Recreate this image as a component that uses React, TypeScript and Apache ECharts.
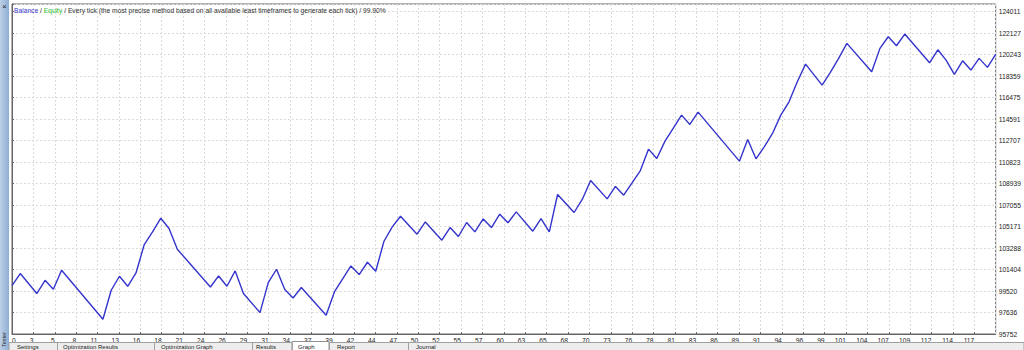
import React, { useEffect, useRef } from "react";
import * as echarts from "echarts";

// Trade index of each visible vertex of the balance curve
const trades = [
  0, 1, 3, 4, 5, 6, 11, 12, 13, 14, 15, 16, 17, 18, 19, 20, 24, 25, 26, 27, 28,
  30, 31, 32, 33, 34, 35, 38, 39, 41, 42, 43, 44, 45, 46, 47, 49, 50, 52, 53,
  54, 55, 56, 57, 58, 59, 60, 61, 63, 64, 65, 66, 68, 69, 70, 72, 73, 74, 76,
  77, 78, 79, 81, 82, 83, 88, 89, 90, 91, 92, 93, 94, 95, 96, 98, 99, 100, 101,
  104, 105, 106, 107, 108, 111, 112, 113, 114, 115, 116, 117, 118, 119,
];

// Account balance after that trade
const balance = [
  100000, 101052, 99297, 100464, 99674, 101342, 97042, 99587, 100815, 99938,
  101105, 103597, 104703, 105905, 105001, 103184, 99876, 100842, 99938, 101280,
  99297, 97630, 100262, 101429, 99648, 98911, 99824, 97393, 99438, 101719,
  100964, 102044, 101254, 103886, 105141, 106080, 104501, 105580, 103974,
  105089, 104299, 105527, 104703, 105843, 105089, 106256, 105510, 106458,
  104764, 105878, 104703, 107984, 106405, 107572, 109213, 107598, 108686,
  107923, 110055, 111959, 111143, 112661, 114943, 114127, 115206, 110906,
  112811, 111110, 112161, 113337, 114943, 116110, 117865, 119418, 117575,
  118690, 119918, 121235, 118743, 120796, 121814, 121024, 122051, 119532,
  120673, 119769, 118514, 119708, 118892, 119918, 119129, 120269,
];

const xTickLabels = [
  "0", "3", "5", "8", "11", "13", "16", "18", "21", "24", "26", "29", "31",
  "34", "37", "39", "42", "44", "47", "50", "52", "55", "57", "60", "63", "65",
  "68", "70", "73", "76", "78", "81", "83", "86", "89", "91", "94", "96", "99",
  "101", "104", "107", "109", "112", "114", "117",
];

const yTickLabels = [
  "95752", "97636", "99520", "101404", "103288", "105171", "107055", "108939",
  "110823", "112707", "114591", "116475", "118359", "120243", "122127",
  "124011",
];

const tabLabels = [
  "Settings",
  "Optimization Results",
  "Optimization Graph",
  "Results",
  "Graph",
  "Report",
  "Journal",
];

const titleParts = {
  balance: "Balance",
  equity: "Equity",
  rest: " / Every tick (the most precise method based on all available least timeframes to generate each tick) / 99.90%",
};

// value range of the balance axis (bottom of frame .. top of frame)
const yMin = 95752;
const yTop = 124011;
const yMax = 124686;
const xMax = 119;

export default function App() {
  const ref = useRef<HTMLDivElement>(null);

  useEffect(() => {
    if (!ref.current) return;
    const chart = echarts.init(ref.current, null, { renderer: "svg" });
    const yStep = (yTop - yMin) / (yTickLabels.length - 1);
    const yTickMax = (yMax - yMin) / yStep;
    const font = "'Liberation Sans', Arial, sans-serif";

    const tabX = [17, 63, 161, 256, 298, 337, 416];
    const tabSep = [57, 154, 252, 292, 329, 408];

    const graphics: any[] = [
      // left docking strip
      {
        type: "rect",
        shape: { x: 0, y: 0, width: 9, height: 350 },
        style: {
          fill: new echarts.graphic.LinearGradient(0, 0, 1, 0, [
            { offset: 0, color: "#bcd0e8" },
            { offset: 1, color: "#8eaed3" },
          ]),
        },
        z: 10,
      },
      {
        type: "text",
        x: 2,
        y: 2,
        style: { text: "×", fontSize: 8, fill: "#222", fontFamily: font },
        z: 11,
      },
      {
        type: "text",
        x: 7,
        y: 347,
        rotation: Math.PI / 2,
        style: {
          text: "Tester",
          fontSize: 5.5,
          fill: "#333",
          fontFamily: font,
          verticalAlign: "bottom",
        },
        z: 11,
      },
      // bottom tab row
      {
        type: "rect",
        shape: { x: 9, y: 342.5, width: 1015, height: 8 },
        style: { fill: "#ededed", stroke: "#a0a0a0", lineWidth: 1 },
        z: 10,
      },
      {
        type: "rect",
        shape: { x: 292, y: 341.5, width: 37, height: 10 },
        style: { fill: "#ffffff", stroke: "#909090", lineWidth: 1 },
        z: 11,
      },
      ...tabSep.map((x) => ({
        type: "line",
        shape: { x1: x + 0.5, y1: 343, x2: x + 0.5, y2: 350 },
        style: { stroke: "#a0a0a0", lineWidth: 1 },
        z: 11,
      })),
      ...tabLabels.map((t, i) => ({
        type: "text",
        x: tabX[i],
        y: 349.5,
        style: {
          text: t,
          fontSize: 6,
          fill: "#222",
          fontFamily: font,
          verticalAlign: "bottom",
        },
        z: 12,
      })),
      // title
      {
        type: "text",
        x: 14,
        y: 10,
        style: {
          text: `{b|${titleParts.balance}} / {g|${titleParts.equity}}${titleParts.rest}`,
          fontSize: 6.7,
          fill: "#333",
          fontFamily: font,
          verticalAlign: "middle",
          rich: {
            b: { fill: "#3a3ad0", fontSize: 6.7, fontFamily: font },
            g: { fill: "#2fbf2f", fontSize: 6.7, fontFamily: font },
          },
        },
        z: 12,
      },
    ];

    chart.setOption({
      animation: false,
      backgroundColor: "#ffffff",
      grid: {
        left: 12,
        right: 27,
        top: 4,
        bottom: 16,
        show: true,
        borderColor: "#666666",
        borderWidth: 1,
        backgroundColor: "#ffffff",
      },
      xAxis: [
        { type: "value", min: 0, max: xMax, show: false },
        {
          type: "value",
          min: 0,
          max: xTickLabels.length,
          interval: 1,
          position: "bottom",
          axisLine: { show: true, lineStyle: { color: "#666666" } },
          axisTick: { show: true, inside: true, length: 2, lineStyle: { color: "#666" } },
          splitLine: {
            show: true,
            lineStyle: { color: "#dadada", type: [2, 2], width: 1 },
          },
          axisLabel: {
            formatter: (v: number) => xTickLabels[v] ?? "",
            fontSize: 6.7,
            fontFamily: font,
            color: "#222",
            align: "right",
            alignMinLabel: "left",
            margin: 3,
            showMaxLabel: false,
          },
        },
      ],
      yAxis: [
        { type: "value", min: yMin, max: yMax, show: false },
        {
          type: "value",
          min: 0,
          max: yTickMax,
          interval: 1,
          position: "right",
          axisLine: { show: true, lineStyle: { color: "#666666" } },
          axisTick: { show: true, length: 2, lineStyle: { color: "#666" } },
          splitLine: {
            show: true,
            lineStyle: { color: "#dadada", type: [2, 2], width: 1 },
          },
          axisLabel: {
            formatter: (v: number) =>
              Number.isInteger(v) ? yTickLabels[v] ?? "" : "",
            fontSize: 6.7,
            fontFamily: font,
            color: "#222",
            margin: 3,
          },
        },
      ],
      series: [
        {
          type: "line",
          xAxisIndex: 0,
          yAxisIndex: 0,
          data: trades.map((t, i) => [t, balance[i]]),
          showSymbol: false,
          symbol: "none",
          lineStyle: { color: "#3434cc", width: 1.4 },
          z: 5,
        },
      ],
      graphic: graphics,
    });
    return () => chart.dispose();
  }, []);

  return (
    <div
      ref={ref}
      style={{ position: "absolute", left: 0, top: 0, width: 1024, height: 350 }}
    />
  );
}
